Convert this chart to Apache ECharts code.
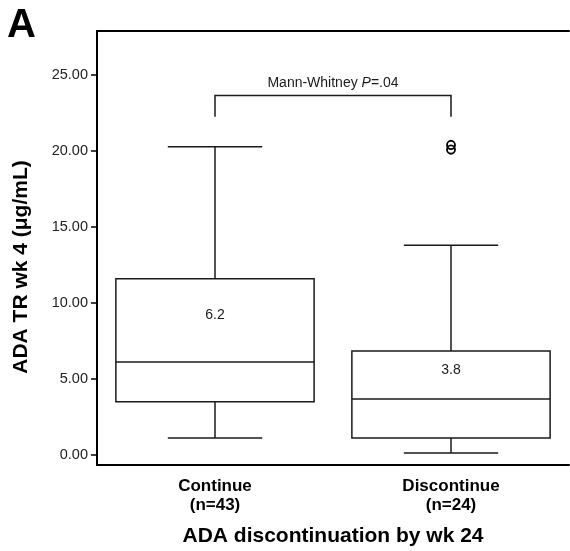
<!DOCTYPE html>
<html><head><meta charset="utf-8">
<script src="https://cdn.jsdelivr.net/npm/echarts@6/dist/echarts.min.js"></script>
<style>html,body{margin:0;padding:0;background:#fff}#c{width:570px;height:551px}</style>
</head><body><div id="c"></div>
<script>
var categories = ['Continue\n(n=43)', 'Discontinue\n(n=24)'];
// [min whisker, Q1, median, Q3, max whisker]
var continueBox = [1.12, 3.5, 6.12, 11.6, 20.28];
var discontinueBox = [0.13, 1.12, 3.68, 6.85, 13.8];
var medianLabels = ['6.2', '3.8'];
var outliers = [[1, 20.4], [1, 20.1]];
var yTicks = [0, 5, 10, 15, 20, 25];
var bracket = {from: 0, to: 1, top: 23.65, legBottom: 22.25, text: 24.45};

var FONT = 'Liberation Sans, Arial, Helvetica, sans-serif';
var chart = echarts.init(document.getElementById('c'));
var boxData = [[0].concat(continueBox), [1].concat(discontinueBox)];

function renderBox(params, api) {
  var idx = api.value(0);
  var band = api.size([1, 0])[0];
  var hw = band * 0.42, cw = band * 0.2;
  var pMin = api.coord([idx, api.value(1)]);
  var pQ1 = api.coord([idx, api.value(2)]);
  var pMed = api.coord([idx, api.value(3)]);
  var pQ3 = api.coord([idx, api.value(4)]);
  var pMax = api.coord([idx, api.value(5)]);
  var x = pMed[0];
  var st = {stroke: '#1a1a1a', lineWidth: 1.5, fill: null};
  return {
    type: 'group',
    children: [
      {type: 'rect', shape: {x: x - hw, y: pQ3[1], width: 2 * hw, height: pQ1[1] - pQ3[1]}, style: {stroke: '#1a1a1a', lineWidth: 1.5, fill: '#fff'}},
      {type: 'line', shape: {x1: x - hw, y1: pMed[1], x2: x + hw, y2: pMed[1]}, style: st},
      {type: 'line', shape: {x1: x, y1: pQ3[1], x2: x, y2: pMax[1]}, style: st},
      {type: 'line', shape: {x1: x, y1: pQ1[1], x2: x, y2: pMin[1]}, style: st},
      {type: 'line', shape: {x1: x - cw, y1: pMax[1], x2: x + cw, y2: pMax[1]}, style: st},
      {type: 'line', shape: {x1: x - cw, y1: pMin[1], x2: x + cw, y2: pMin[1]}, style: st},
      {type: 'text', style: {text: medianLabels[params.dataIndex], x: x, y: (pMed[1] + pQ3[1]) / 2 - 5, align: 'center', verticalAlign: 'middle', font: '14px ' + FONT, fill: '#1a1a1a'}}
    ]
  };
}

function renderBracket(params, api) {
  var a = api.coord([bracket.from, bracket.top]);
  var b = api.coord([bracket.to, bracket.top]);
  var la = api.coord([bracket.from, bracket.legBottom]);
  var t = api.coord([(bracket.from + bracket.to) / 2, bracket.text]);
  var st = {stroke: '#1a1a1a', lineWidth: 1.5, fill: null};
  return {
    type: 'group',
    children: [
      {type: 'polyline', shape: {points: [[a[0], la[1]], [a[0], a[1]], [b[0], b[1]], [b[0], la[1]]]}, style: st},
      {type: 'text', style: {text: '{n|Mann-Whitney }{i|P}{n|=.04}', x: (a[0] + b[0]) / 2, y: t[1], align: 'center', verticalAlign: 'middle',
        rich: {n: {font: '14px ' + FONT, fill: '#1a1a1a'}, i: {font: 'italic 14px ' + FONT, fill: '#1a1a1a'}}}}
    ]
  };
}

function renderOutlier(params, api) {
  var p = api.coord([api.value(0), api.value(1)]);
  return {type: 'ellipse', shape: {cx: p[0], cy: p[1], rx: 4, ry: 4.2}, style: {stroke: '#000', lineWidth: 1.8, fill: null}};
}

chart.setOption({
  animation: false,
  backgroundColor: '#fff',
  grid: {left: 97, top: 31, right: 1, bottom: 86, outerBoundsMode: 'none', containLabel: false},
  graphic: [
    {type: 'text', left: 7, top: 6, style: {text: 'A', font: 'bold 40px ' + FONT, fill: '#000'}},
    {type: 'text', x: 21, y: 267, rotation: Math.PI / 2, style: {text: 'ADA TR wk 4 (\u03bcg/mL)', align: 'center', verticalAlign: 'middle', font: 'bold 21px ' + FONT, fill: '#000'}}
  ],
  xAxis: [{
    type: 'category', data: categories, position: 'bottom',
    axisLine: {onZero: false, lineStyle: {color: '#000', width: 2}}, axisTick: {show: false},
    axisLabel: {fontFamily: FONT, fontWeight: 'bold', fontSize: 17, color: '#000', margin: 12, lineHeight: 19},
    name: 'ADA discontinuation by wk 24', nameLocation: 'middle', nameGap: 61,
    nameTextStyle: {fontFamily: FONT, fontWeight: 'bold', fontSize: 21, color: '#000'}
  }, {
    type: 'category', data: categories, position: 'top',
    axisLine: {onZero: false, lineStyle: {color: '#000', width: 2}}, axisTick: {show: false}, axisLabel: {show: false}
  }],
  yAxis: {
    type: 'value', min: -0.66, max: 27.9,
    splitLine: {show: false},
    axisLine: {show: true, onZero: false, lineStyle: {color: '#000', width: 2}},
    axisTick: {show: true, length: 6, customValues: yTicks, lineStyle: {color: '#000', width: 1.5}},
    axisLabel: {customValues: yTicks, formatter: function (v) { return v.toFixed(2); }, fontFamily: FONT, fontSize: 14.5, color: '#222', margin: 9}
  },
  series: [
    {type: 'custom', renderItem: renderBox, data: boxData, encode: {x: 0, y: [1, 2, 3, 4, 5]}, z: 2},
    {type: 'custom', renderItem: renderBracket, data: [[0, bracket.top]], encode: {x: 0, y: 1}, z: 3},
    {type: 'custom', renderItem: renderOutlier, data: outliers, encode: {x: 0, y: 1}, z: 4}
  ]
});
</script></body></html>
